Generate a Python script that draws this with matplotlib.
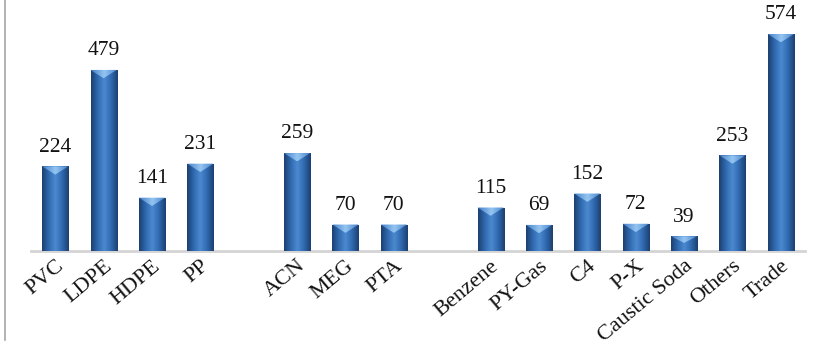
import numpy as np
import matplotlib
matplotlib.use("Agg")
from matplotlib import pyplot as plt
from matplotlib.patches import Polygon
from matplotlib.lines import Line2D
from matplotlib.colors import LinearSegmentedColormap
from matplotlib.transforms import ScaledTranslation

# products, with blank slots separating the three groups
labels = ["PVC", "LDPE", "HDPE", "PP", "",
          "ACN", "MEG", "PTA", "",
          "Benzene", "PY-Gas", "C4", "P-X", "Caustic Soda", "Others", "Trade"]
values = [224, 479, 141, 231, None,
          259, 70, 70, None,
          115, 69, 152, 72, 39, 253, 574]

plt.rcParams["font.family"] = ["Liberation Serif", "DejaVu Serif"]

fig = plt.figure(figsize=(8.15, 3.46), dpi=100)
ax = fig.add_axes([31 / 815, 95 / 346, 774 / 815, 251 / 346])

x = np.arange(len(labels))
bx = [i for i, v in zip(x, values) if v is not None]
bv = [v for v in values if v is not None]

bars = ax.bar(bx, bv, width=0.54, color="#2f64a8", zorder=2)

body = LinearSegmentedColormap.from_list(
    "body", ["#1d406f", "#3069b0", "#4c8ad0", "#3069b0", "#1d406f"])
bevel = LinearSegmentedColormap.from_list(
    "bevel", ["#4580c8", "#95c6f2", "#4580c8"])
grad = np.linspace(0, 1, 64).reshape(1, -1)

for bar, v in zip(bars, bv):
    x0 = bar.get_x()
    x1 = x0 + bar.get_width()
    im = ax.imshow(grad, cmap=body, aspect="auto", extent=(x0, x1, 0, v),
                   zorder=3, interpolation="bicubic")
    im.set_clip_path(bar)
    d = min(22, v * 0.45)
    tri = Polygon([(x0, v), (x1, v), ((x0 + x1) / 2, v - d)], closed=True,
                  facecolor="none", edgecolor="none", zorder=4)
    ax.add_patch(tri)
    im2 = ax.imshow(grad, cmap=bevel, aspect="auto", extent=(x0, x1, v - d, v),
                    zorder=4, interpolation="bicubic")
    im2.set_clip_path(tri)
    ax.annotate(f"{v}", (bar.get_x() + bar.get_width() / 2, v),
                xytext=(0, 7), textcoords="offset points",
                ha="center", va="bottom", fontsize=15.5, color="#111111")

ax.set_xlim(-0.5, len(labels) - 0.5)
ax.set_ylim(0, 664)
ax.set_xticks(x)
ax.set_xticklabels(labels, rotation=40, ha="right", va="top",
                   rotation_mode="anchor", fontsize=16, color="#111111")
shift = ScaledTranslation(8 / 100, 0, fig.dpi_scale_trans)
for t in ax.get_xticklabels():
    t.set_transform(t.get_transform() + shift)
ax.tick_params(axis="x", length=0, pad=4)
ax.set_yticks([])
for s in ["top", "right", "left"]:
    ax.spines[s].set_visible(False)
ax.spines["bottom"].set_color("#d4d4d4")
ax.spines["bottom"].set_linewidth(2)

fig.add_artist(Line2D([4.5 / 815, 4.5 / 815], [6 / 346, 1], color="#a6a6a6",
                      linewidth=1.2, transform=fig.transFigure))

fig.savefig("out.png", dpi=100)
